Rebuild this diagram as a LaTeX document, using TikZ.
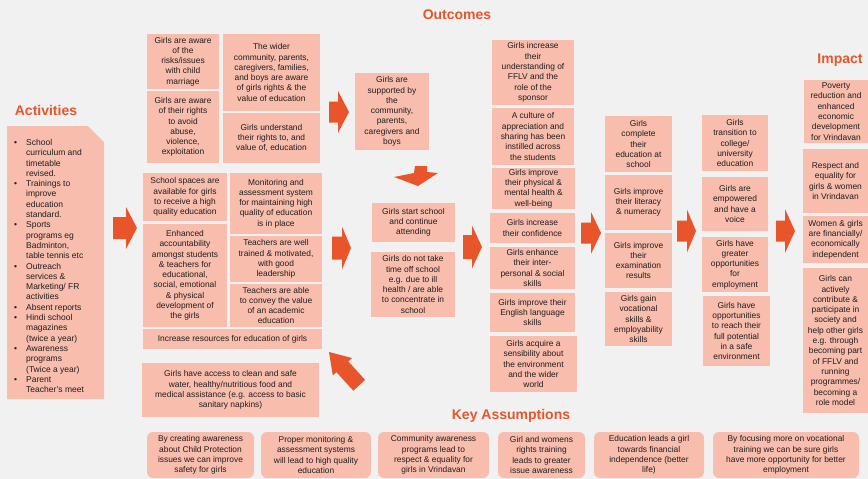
\documentclass[tikz,border=0pt]{standalone}
\usepackage{fontspec}
\setmainfont{Liberation Sans}
\definecolor{bgc}{HTML}{F1F1F1}
\definecolor{boxc}{HTML}{F8BDAD}
\definecolor{orng}{HTML}{E9552B}
\definecolor{txt}{HTML}{1E1E1E}
\tikzset{
  bx/.style={fill=boxc, inner sep=1pt, align=center, text=txt, font=\fontsize{8.4}{10.3}\selectfont},
  kbx/.style={bx, rounded corners=6pt},
  head/.style={text=orng, font=\fontsize{14}{16}\selectfont\bfseries},
  arr/.style={fill=orng}
}
\newcommand\bx[6]{\node[bx, minimum width={(#3-#1)*1pt}, minimum height={(#4-#2)*1pt}] (#5) at ({(#1+#3)/2},{(#2+#4)/2}) {#6};}
\newcommand\kbx[6]{\node[kbx, minimum width={(#3-#1)*1pt}, minimum height={(#4-#2)*1pt}] (#5) at ({(#1+#3)/2},{(#2+#4)/2}) {#6};}
\newcommand\rarr[6]{\fill[arr] ({#1},{#4-#5}) -- ({#2},{#4-#5}) -- ({#2},{#4-#6}) -- ({#3},{#4}) -- ({#2},{#4+#6}) -- ({#2},{#4+#5}) -- ({#1},{#4+#5}) -- cycle;}
\begin{document}
\begin{tikzpicture}[x=1pt,y=-1pt]
\useasboundingbox (0,0) rectangle (868,479);
\fill[bgc] (0,0) rectangle (868,479);
% headings
\node[head] (hout) at (457,15) {Outcomes};
\node[head] (hact) at (46,110) {Activities};
\node[head] (himp) at (840,60) {Impact};
\node[head] (hkey) at (511,416) {Key Assumptions};
% activities
\fill[boxc] (7,126) -- (88,126) -- (104,142) -- (104,399) -- (7,399) -- cycle;
\node[anchor=north west, inner sep=0pt, text=txt, font=\fontsize{8.5}{10.3}\selectfont] (act) at (14,138) {%
\begin{tabular}{@{}l@{\hspace{9pt}}l@{}}
\textbullet & School\\ & curriculum and\\ & timetable\\ & revised.\\
\textbullet & Trainings to\\ & improve\\ & education\\ & standard.\\
\textbullet & Sports\\ & programs eg\\ & Badminton,\\ & table tennis etc\\
\textbullet & Outreach\\ & services \&\\ & Marketing/ FR\\ & activities\\
\textbullet & Absent reports\\
\textbullet & Hindi school\\ & magazines\\ & (twice a year)\\
\textbullet & Awareness\\ & programs\\ & (Twice a year)\\
\textbullet & Parent\\ & Teacher's meet
\end{tabular}};
% group A
\bx{147}{34}{219}{89}{a1}{Girls are aware\\of the\\risks/issues\\with child\\marriage}
\bx{147}{91}{219}{163}{a2}{Girls are aware\\of their rights\\to avoid\\abuse,\\violence,\\exploitation}
\bx{223}{34}{320}{111}{a3}{The wider\\community, parents,\\caregivers, families,\\and boys are aware\\of girls rights \& the\\value of education}
\bx{223}{113}{320}{163}{a4}{Girls understand\\their rights to, and\\value of, education}
% group B
\bx{143}{173}{227}{221}{b1}{School spaces are\\available for girls\\to receive a high\\quality education}
\bx{230}{173}{322}{234}{b2}{Monitoring and\\assessment system\\for maintaining high\\quality of education\\is in place}
\bx{143}{224}{227}{327}{b3}{Enhanced\\accountability\\amongst students\\\& teachers for\\educational,\\social, emotional\\\& physical\\development of\\the girls}
\bx{230}{236}{322}{282}{b4}{Teachers are well\\trained \& motivated,\\with good\\leadership}
\bx{230}{284}{322}{327}{b5}{Teachers are able\\to convey the value\\of an academic\\education}
\bx{143}{329}{322}{349}{b6}{Increase resources for education of girls}
\bx{142}{363}{319}{417}{c1}{Girls have access to clean and safe\\water, healthy/nutritious food and\\medical assistance (e.g. access to basic\\sanitary napkins)}
% group D
\bx{355}{73}{429}{150}{d1}{Girls are\\supported by\\the\\community,\\parents,\\caregivers and\\boys}
\bx{372}{203}{455}{242}{d2}{Girls start school\\and continue\\attending}
\bx{371}{252}{455}{317}{d3}{Girls do not take\\time off school\\e.g. due to ill\\health / are able\\to concentrate in\\school}
% group E
\bx{492}{40}{574}{105}{e1}{Girls increase\\their\\understanding of\\FFLV and the\\role of the\\sponsor}
\bx{492}{108}{574}{165}{e2}{A culture of\\appreciation and\\sharing has been\\instilled across\\the students}
\bx{492}{168}{575}{209}{e3}{Girls improve\\their physical \&\\mental health \&\\well-being}
\bx{490}{213}{575}{243}{e4}{Girls increase\\their confidence}
\bx{490}{247}{575}{289}{e5}{Girls enhance\\their inter-\\personal \& social\\skills}
\bx{490}{293}{575}{332}{e6}{Girls improve their\\English language\\skills}
\bx{490}{336}{577}{392}{e7}{Girls acquire a\\sensibility about\\the environment\\and the wider\\world}
% group F
\bx{605}{116}{672}{172}{f1}{Girls\\complete\\their\\education at\\school}
\bx{605}{175}{672}{230}{f2}{Girls improve\\their literacy\\\& numeracy}
\bx{605}{233}{672}{288}{f3}{Girls improve\\their\\examination\\results}
\bx{605}{292}{672}{346}{f4}{Girls gain\\vocational\\skills \&\\employability\\skills}
% group G
\bx{702}{115}{768}{171}{g1}{Girls\\transition to\\college/\\university\\education}
\bx{702}{177}{768}{231}{g2}{Girls are\\empowered\\and have a\\voice}
\bx{702}{237}{768}{292}{g3}{Girls have\\greater\\opportunities\\for\\employment}
\bx{703}{296}{770}{366}{g4}{Girls have\\opportunities\\to reach their\\full potential\\in a safe\\environment}
% impact
\bx{804}{80}{868}{143}{h1}{Poverty\\reduction and\\enhanced\\economic\\development\\for Vrindavan}
\bx{803}{149}{868}{213}{h2}{Respect and\\equality for\\girls \& women\\in Vrindavan}
\bx{803}{216}{868}{263}{h3}{Women \& girls\\are financially/\\economically\\independent}
\bx{803}{268}{868}{413}{h4}{\fontsize{8.4}{11}\selectfont Girls can\\actively\\contribute \&\\participate in\\society and\\help other girls\\e.g. through\\becoming part\\of FFLV and\\running\\programmes/\\becoming a\\role model}
% key assumptions
\kbx{147}{432}{254}{478}{k1}{By creating awareness\\about Child Protection\\issues we can improve\\safety for girls}
\kbx{261}{432}{371}{478}{k2}{Proper monitoring \&\\assessment systems\\will lead to high quality\\education}
\kbx{378}{432}{489}{478}{k3}{Community awareness\\programs lead to\\respect \& equality for\\girls in Vrindavan}
\kbx{498}{432}{585}{478}{k4}{Girl and womens\\rights training\\leads to greater\\issue awareness}
\kbx{594}{432}{704}{478}{k5}{Education leads a girl\\towards financial\\independence (better\\life)}
\kbx{713}{432}{859}{478}{k6}{By focusing more on vocational\\training we can be sure girls\\have more opportunity for better\\employment}
% arrows
\rarr{113}{126}{137}{228}{11}{21}
\rarr{329}{338}{349}{112}{10.5}{21}
\rarr{332}{342}{351}{248}{11.5}{21.5}
\rarr{463}{472}{482}{247}{12}{21.5}
\rarr{581}{591}{601}{233}{10.5}{21}
\rarr{677}{687}{696}{231}{10.5}{21.5}
\rarr{776}{785}{795}{231}{10.5}{22}
% down arrow
\fill[arr] (415,166) -- (427,166) -- (427,172) -- (438,173) -- (418,186) -- (394,177) -- (414,173) -- cycle;
% diagonal arrow
\fill[arr] (329,352) -- (352,358) -- (348.3,361.4) -- (365.1,379.9) -- (353.3,390.7) -- (336.5,372.2) -- (332.8,375.5) -- cycle;
\end{tikzpicture}
\end{document}
